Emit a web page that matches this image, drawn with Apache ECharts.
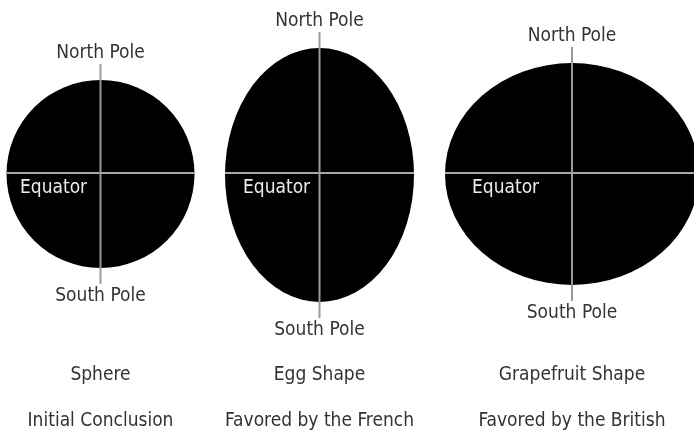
<!DOCTYPE html>
<html>
<head>
<meta charset="utf-8">
<script src="https://cdn.jsdelivr.net/npm/echarts@6/dist/echarts.min.js"></script>
<style>
  html, body { margin: 0; padding: 0; background: #fff; }
  #main { width: 694px; height: 431px; }
</style>
</head>
<body>
<div id="main"></div>
<script>
// three models of the earth's figure, sizes in diagram units
var shapeNames = ['Sphere', 'Egg Shape', 'Grapefruit Shape']
var shapeNotes = ['Initial Conclusion', 'Favored by the French', 'Favored by the British']
var centerX = [100.5, 319.5, 572]
var centerY = [174, 175, 174]
var radiusX = [94, 94.5, 127]
var radiusY = [94, 127, 111]
var equatorY = [173, 173, 173]

// layout bits (not data)
var font = '"DejaVu Sans Condensed", "Liberation Sans Narrow", sans-serif'
var fontSize = 19
var textColor = '#333'
var poleOverhang = 16
var equatorLabelX = [20, 243, 472]

var chart = echarts.init(document.getElementById('main'))

var seriesData = shapeNames.map(function (name, i) {
  return [centerX[i], centerY[i], radiusX[i], radiusY[i], equatorY[i], i]
})

function renderShape(params, api) {
  var i = api.value(5)
  var c = api.coord([api.value(0), api.value(1)])
  var r = api.size([api.value(2), api.value(3)])
  var eq = api.coord([0, api.value(4)])[1]
  var top = c[1] - r[1]
  var bottom = c[1] + r[1]
  var lblX = api.coord([equatorLabelX[i], 0])[0]
  return {
    type: 'group',
    children: [
      {
        type: 'circle',
        x: c[0],
        y: c[1],
        scaleX: r[0] / r[1],
        shape: { cx: 0, cy: 0, r: r[1] },
        style: { fill: '#000' }
      },
      {
        type: 'line',
        shape: { x1: c[0] - r[0], y1: eq, x2: c[0] + r[0], y2: eq },
        style: { stroke: '#a8a8a8', lineWidth: 2 }
      },
      {
        type: 'line',
        shape: { x1: c[0], y1: top - poleOverhang, x2: c[0], y2: bottom + poleOverhang },
        style: { stroke: '#9a9a9a', lineWidth: 2 }
      },
      {
        type: 'text',
        style: {
          text: 'North Pole', x: c[0], y: top - poleOverhang - 11,
          fill: textColor, font: fontSize + 'px ' + font,
          align: 'center', verticalAlign: 'middle'
        }
      },
      {
        type: 'text',
        style: {
          text: 'South Pole', x: c[0], y: bottom + poleOverhang + 12,
          fill: textColor, font: fontSize + 'px ' + font,
          align: 'center', verticalAlign: 'middle'
        }
      },
      {
        type: 'text',
        style: {
          text: 'Equator', x: lblX, y: eq + 15,
          fill: '#ececec', font: fontSize + 'px ' + font,
          align: 'left', verticalAlign: 'middle'
        }
      },
      {
        type: 'text',
        style: {
          text: shapeNames[i], x: c[0], y: api.coord([0, 375])[1],
          fill: textColor, font: fontSize + 'px ' + font,
          align: 'center', verticalAlign: 'middle'
        }
      },
      {
        type: 'text',
        style: {
          text: shapeNotes[i], x: c[0], y: api.coord([0, 421])[1],
          fill: textColor, font: fontSize + 'px ' + font,
          align: 'center', verticalAlign: 'middle'
        }
      }
    ]
  }
}

chart.setOption({
  animation: false,
  grid: { left: 0, right: 0, top: 0, bottom: 0 },
  xAxis: { type: 'value', min: 0, max: 694, show: false },
  yAxis: { type: 'value', min: 0, max: 431, inverse: true, show: false },
  series: [
    {
      type: 'custom',
      renderItem: renderShape,
      data: seriesData,
      clip: false
    }
  ]
})
</script>
</body>
</html>
